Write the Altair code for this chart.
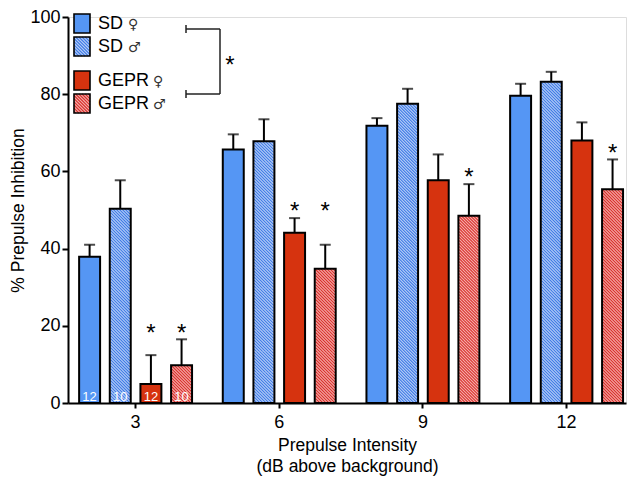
import math
import altair as alt
import pandas as pd

# ---------------- data ----------------
intensities = ["3", "6", "9", "12"]
groups = ["SD♀", "SD♂", "GEPR♀", "GEPR♂"]
legend_names = ["SD", "SD", "GEPR", "GEPR"]
legend_sex = ["♀", "♂", "♀", "♂"]

mean_sd_f = [37.9, 65.7, 71.8, 79.6]
mean_sd_m = [50.3, 67.8, 77.5, 83.2]
mean_gepr_f = [4.9, 44.1, 57.7, 68.0]
mean_gepr_m = [9.8, 34.8, 48.5, 55.4]

sem_sd_f = [3.1, 3.9, 2.0, 3.1]
sem_sd_m = [7.4, 5.7, 3.9, 2.6]
sem_gepr_f = [7.5, 3.8, 6.7, 4.7]
sem_gepr_m = [6.7, 6.2, 8.2, 7.7]

n_per_group = [12, 10, 12, 10]          # printed inside the bars at 3 dB

sig_gepr_f = [True, True, False, False]  # asterisk above the bar
sig_gepr_m = [True, True, True, True]

# ---------------- styles ----------------
FONT = "Liberation Sans"
SYM_FONT = "DejaVu Sans"
BAR_FILL = ["#5596F4", "#BDD2F7", "#D6330F", "#F6B2AE"]
HATCH_LINE = {"SD♂": "#3F7BE6", "GEPR♂": "#D8302C"}
hatched = ["SD♂", "GEPR♂"]

W, H = 558, 386
PATCH_PX = 21

def hatch_path(ax, period):
    """diagonal lines x - y = c clipped to [-ax, ax] x [-1, 1]"""
    parts = []
    c = -2.0
    while c <= 2.0001:
        ylo = max(-1.0, -ax - c)
        yhi = min(1.0, ax - c)
        if yhi - ylo > 1e-6:
            parts.append("M%.3f,%.3fL%.3f,%.3f" % (ylo + c, ylo, yhi + c, yhi))
        c += period
    return "".join(parts)

BAR_HATCH = hatch_path(0.92, 2.0 / 7.0)
LEG_HATCH = hatch_path(8.0 / 9.5, 2.0 / 6.0)

# ---------------- tables ----------------
means = [mean_sd_f, mean_sd_m, mean_gepr_f, mean_gepr_m]
sems = [sem_sd_f, sem_sd_m, sem_gepr_f, sem_gepr_m]
sigs = [[False] * 4, [False] * 4, sig_gepr_f, sig_gepr_m]
rows = []
for gi, g in enumerate(groups):
    for ii, it in enumerate(intensities):
        rows.append(dict(intensity=it, group=g, mean=means[gi][ii],
                         top=means[gi][ii] + sems[gi][ii], sig=sigs[gi][ii]))
df = pd.DataFrame(rows)

stars = df[df["sig"]].copy()
stars["star"] = stars.groupby("intensity")["top"].transform("max") + 3.3

ndf = pd.DataFrame(dict(intensity=[intensities[0]] * 4, group=groups,
                        n=[str(v) for v in n_per_group]))

# hatch tiles stacked down from each hatched bar's top (clipped at the axis)
unit = PATCH_PX * 100.0 / H
prow = []
for r in rows:
    if r["group"] in hatched:
        for k in range(int(math.ceil(r["mean"] / unit))):
            prow.append(dict(intensity=r["intensity"], group=r["group"],
                             yc=r["mean"] - (k + 0.5) * unit))
patches = pd.DataFrame(prow)

# ---------------- encodings ----------------
axis_x = alt.Axis(labelAngle=0, labelFontSize=18, labelColor="black", labelPadding=5,
                  tickSize=5, tickWidth=2, tickColor="black", domainColor="black",
                  domainWidth=2, titleFontSize=17.5, titleFontWeight="normal",
                  titleColor="black", titlePadding=5, titleLineHeight=21, grid=False,
                  labelFont=FONT, titleFont=FONT)
axis_y = alt.Axis(values=[0, 20, 40, 60, 80, 100], labelFontSize=18, labelColor="black",
                  labelPadding=2, tickSize=6, tickWidth=2, tickColor="black",
                  domainColor="black", domainWidth=2, titleFontSize=17.5,
                  titleFontWeight="normal", titleColor="black", titlePadding=2,
                  grid=False, labelFont=FONT, titleFont=FONT)

def X():
    return alt.X("intensity:N", sort=intensities,
                 scale=alt.Scale(domain=intensities, paddingInner=0.214,
                                 paddingOuter=0.049, align=0.79),
                 axis=axis_x, title=["Prepulse Intensity", "(dB above background)"])

def XO():
    return alt.XOffset("group:N", sort=groups,
                       scale=alt.Scale(domain=groups, paddingInner=0.316, paddingOuter=0))

def Y(field):
    return alt.Y(field, type="quantitative", scale=alt.Scale(domain=[0, 100], nice=False),
                 axis=axis_y, title="% Prepulse Inhibition")

base = alt.Chart(df)

bars = base.mark_bar(strokeWidth=0).encode(
    x=X(), xOffset=XO(), y=Y("mean"),
    fill=alt.Fill("group:N", scale=alt.Scale(domain=groups, range=BAR_FILL), legend=None),
)

hatch_layers = []
for g in hatched:
    hatch_layers.append(
        alt.Chart(patches[patches["group"] == g]).mark_point(
            shape=BAR_HATCH, size=PATCH_PX * PATCH_PX, filled=False, opacity=1,
            stroke=HATCH_LINE[g], strokeWidth=1.1, clip=True,
        ).encode(x=X(), xOffset=XO(), y=Y("yc"))
    )

outline = base.mark_bar(fillOpacity=0, stroke="black", strokeWidth=2).encode(
    x=X(), xOffset=XO(), y=Y("mean")
)

err = base.mark_rule(color="black", strokeWidth=2).encode(
    x=X(), xOffset=XO(), y=Y("mean"), y2="top"
)
caps = base.mark_tick(color="black", orient="horizontal", size=11, thickness=2).encode(
    x=X(), xOffset=XO(), y=Y("top")
)

star_marks = alt.Chart(stars).mark_text(text="*", fontSize=24, font=FONT, color="black",
                                        baseline="middle", dy=7).encode(
    x=X(), xOffset=XO(), y=Y("star")
)

n_marks = alt.Chart(ndf).mark_text(fontSize=13, font=FONT, color="white",
                                   baseline="alphabetic", dy=-2).encode(
    x=X(), xOffset=XO(), y=alt.datum(0), text="n:N"
)

# ---------------- custom legend and bracket ----------------
one = pd.DataFrame({"k": [0]})
legend_layers = []
leg_tops = [-3, 20, 54, 77]
for gi, g in enumerate(groups):
    t = leg_tops[gi]
    legend_layers.append(alt.Chart(one).mark_rect(fill=BAR_FILL[gi], strokeWidth=0).encode(
        x=alt.value(6), x2=alt.value(22), y=alt.value(t), y2=alt.value(t + 19)))
    if g in hatched:
        legend_layers.append(alt.Chart(one).mark_point(
            shape=LEG_HATCH, size=361, filled=False, opacity=1,
            stroke=HATCH_LINE[g], strokeWidth=1.1).encode(
            x=alt.value(14), y=alt.value(t + 9.5)))
    legend_layers.append(alt.Chart(one).mark_rect(fillOpacity=0, stroke="black",
                                                  strokeWidth=1.6).encode(
        x=alt.value(6), x2=alt.value(22), y=alt.value(t), y2=alt.value(t + 19)))
    legend_layers.append(alt.Chart(one).mark_text(
        text=legend_names[gi], align="left", baseline="middle", fontSize=18,
        font=FONT, color="black").encode(x=alt.value(30), y=alt.value(t + 10)))
    name_w = 27 if legend_names[gi] == "SD" else 52
    legend_layers.append(alt.Chart(one).mark_text(
        text=legend_sex[gi], align="left", baseline="middle", fontSize=14,
        font=SYM_FONT, color="#333333").encode(x=alt.value(30 + name_w + 3),
                                               y=alt.value(t + 11)))

bk = "#222222"
bracket = [
    alt.Chart(one).mark_rule(color=bk, strokeWidth=1.5).encode(
        x=alt.value(118), x2=alt.value(152), y=alt.value(12)),
    alt.Chart(one).mark_rule(color=bk, strokeWidth=1.5).encode(
        x=alt.value(118), x2=alt.value(152), y=alt.value(77)),
    alt.Chart(one).mark_rule(color=bk, strokeWidth=1.5).encode(
        x=alt.value(152), y=alt.value(12), y2=alt.value(77)),
    alt.Chart(one).mark_rule(color=bk, strokeWidth=1.5).encode(
        x=alt.value(118), y=alt.value(8), y2=alt.value(16)),
    alt.Chart(one).mark_rule(color=bk, strokeWidth=1.5).encode(
        x=alt.value(118), y=alt.value(73), y2=alt.value(81)),
    alt.Chart(one).mark_text(text="*", fontSize=24, font=FONT, color="black",
                             baseline="middle", dy=7).encode(
        x=alt.value(162), y=alt.value(42)),
]

chart = alt.layer(
    bars, *hatch_layers, outline, err, caps, star_marks, n_marks,
    *legend_layers, *bracket
).properties(
    width=W, height=H,
    autosize=alt.AutoSizeParams(type="none"),
    padding={"left": 60, "top": 9, "right": 4, "bottom": 76},
).configure_view(stroke=None).configure(font=FONT)

chart.save("out.html", embed_options={"renderer": "svg", "actions": False})
